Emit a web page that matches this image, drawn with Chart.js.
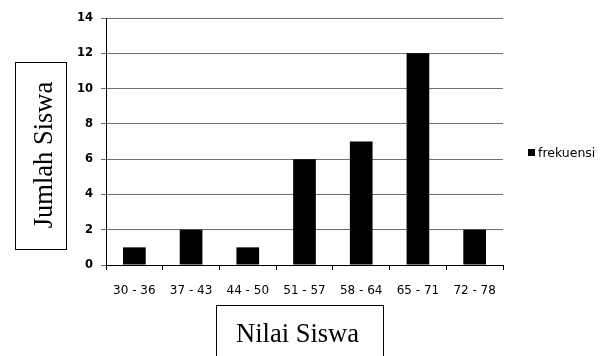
<!DOCTYPE html>
<html>
<head>
<meta charset="utf-8">
<script src="https://cdn.jsdelivr.net/npm/chart.js@4"></script>
<style>
  html, body { margin: 0; padding: 0; background: #fff; }
  #wrap { width: 606px; height: 356px; position: relative; }
</style>
</head>
<body>
<div id="wrap"><canvas id="c" width="606" height="356"></canvas></div>
<script>
// Frequency distribution of student scores
const categories = ['30 - 36', '37 - 43', '44 - 50', '51 - 57', '58 - 64', '65 - 71', '72 - 78'];
const frekuensi = [1, 2, 1, 6, 7, 12, 2];
const yTicks = [0, 2, 4, 6, 8, 10, 12, 14];
const seriesName = 'frekuensi';
const yTitle = 'Jumlah Siswa';
const xTitle = 'Nilai Siswa';

// Boxed axis titles drawn in a serif face
const boxedTitles = {
  id: 'boxedTitles',
  afterDraw(chart) {
    const ctx = chart.ctx;
    ctx.save();
    ctx.strokeStyle = '#000';
    ctx.lineWidth = 1;
    ctx.fillStyle = '#000';
    ctx.font = '26.5px "Liberation Serif", "Times New Roman", serif';

    // vertical title box
    ctx.strokeRect(15.5, 62.5, 51, 187);
    ctx.save();
    ctx.translate(52, 155);
    ctx.rotate(-Math.PI / 2);
    ctx.textAlign = 'center';
    ctx.textBaseline = 'alphabetic';
    ctx.fillText(yTitle, 0, 0);
    ctx.restore();

    // horizontal title box (open at the bottom edge of the canvas)
    ctx.strokeRect(216.5, 305.5, 167, 60);
    ctx.textAlign = 'center';
    ctx.textBaseline = 'alphabetic';
    ctx.fillText(xTitle, 297.5, 341.5);
    ctx.restore();
  }
};

// Simple legend on the right side
const sideLegend = {
  id: 'sideLegend',
  afterDraw(chart) {
    const ctx = chart.ctx;
    const ds = chart.data.datasets[0];
    ctx.save();
    ctx.fillStyle = ds.backgroundColor;
    ctx.fillRect(528, 149, 7, 7);
    ctx.fillStyle = '#000';
    ctx.font = '12.5px "DejaVu Sans", sans-serif';
    ctx.textAlign = 'left';
    ctx.textBaseline = 'alphabetic';
    ctx.fillText(ds.label, 538, 157);
    ctx.restore();
  }
};

new Chart(document.getElementById('c'), {
  type: 'bar',
  data: {
    labels: categories,
    datasets: [{
      label: seriesName,
      data: frekuensi,
      backgroundColor: '#000',
      borderWidth: 0,
      barPercentage: 0.4,
      categoryPercentage: 1.0
    }]
  },
  options: {
    responsive: false,
    animation: false,
    devicePixelRatio: 1,
    layout: { padding: { left: 66, right: 103, top: 18, bottom: 0 } },
    plugins: {
      legend: { display: false },
      tooltip: { enabled: false }
    },
    scales: {
      x: {
        offset: true,
        afterFit(scale) { scale.height = 91; },
        grid: {
          offset: true,
          drawOnChartArea: false,
          drawTicks: true,
          tickLength: 5,
          color: '#000'
        },
        border: { color: '#000', width: 1 },
        ticks: {
          color: '#000',
          padding: 14,
          maxRotation: 0,
          font: { family: '"DejaVu Sans", sans-serif', size: 12 }
        }
      },
      y: {
        min: 0,
        max: 14,
        afterFit(scale) { scale.width = 40; },
        afterBuildTicks(scale) { scale.ticks = yTicks.map(v => ({ value: v })); },
        grid: {
          color: '#707070',
          lineWidth: 1,
          tickLength: 5
        },
        border: { color: '#000', width: 1 },
        ticks: {
          color: '#000',
          padding: 8,
          font: { family: '"DejaVu Sans", sans-serif', size: 11.5, weight: 'bold' }
        }
      }
    }
  },
  plugins: [boxedTitles, sideLegend]
});
</script>
</body>
</html>
